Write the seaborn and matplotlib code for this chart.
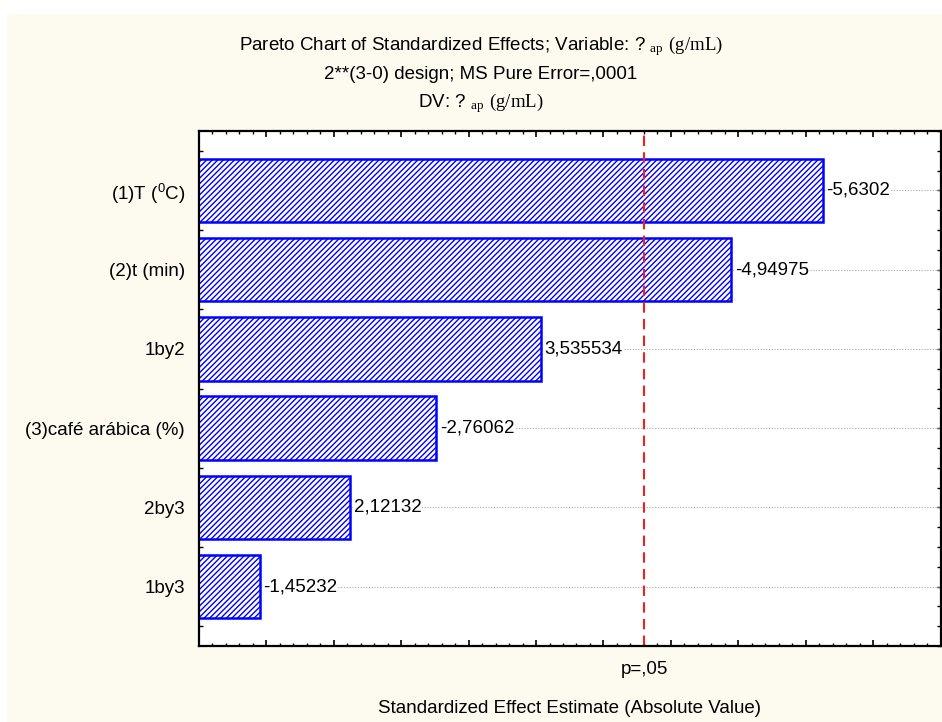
import matplotlib
matplotlib.use("Agg")
import matplotlib.pyplot as plt
import matplotlib.transforms as mtransforms
from matplotlib.patches import Rectangle
from matplotlib.ticker import MultipleLocator, FixedLocator, NullFormatter
import seaborn as sns

# Data
factors = [r"(1)T ($^{\mathsf{0}}$C)", "(2)t (min)", "1by2",
           "(3)café arábica (%)", "2by3", "1by3"]
effects = [-5.6302, -4.94975, 3.535534, -2.76062, 2.12132, -1.45232]
abs_effects = [abs(v) for v in effects]
t_crit = 4.303  # p = .05 line

sns.set_style("ticks")
plt.rcParams['font.family'] = ['Liberation Sans', 'DejaVu Sans']
plt.rcParams['mathtext.fontset'] = 'custom'
plt.rcParams['mathtext.rm'] = 'Liberation Serif'
plt.rcParams['mathtext.sf'] = 'Liberation Sans'
plt.rcParams['hatch.linewidth'] = 1.0
plt.rcParams['text.color'] = 'black'
plt.rcParams['axes.labelcolor'] = 'black'
plt.rcParams['ytick.labelcolor'] = 'black'
FS = 13.5

W, H = 942, 722
fig = plt.figure(figsize=(W / 100, H / 100), dpi=100)
fig.patch.set_facecolor('white')
fig.patches.append(Rectangle((7 / W, 0), 1, 1 - 14 / H, transform=fig.transFigure,
                             facecolor='#FDFAF0', edgecolor='none', zorder=-1))

ax = fig.add_axes([199 / W, 1 - 646 / H, 741.5 / W, 515 / H])
ax.set_facecolor('white')

sns.barplot(x=abs_effects, y=factors, orient='h', ax=ax, color='white',
            edgecolor='#0000FF', linewidth=1.8, hatch='//////', width=0.8,
            saturation=1, zorder=3)

ax.set_xlim(1.0, 6.5)
ax.set_ylim(5.75, -0.75)

# value labels
for i, (a, v) in enumerate(zip(abs_effects, effects)):
    ax.text(a + 0.025, i, str(v).replace('.', ','), va='center', ha='left',
            fontsize=FS, zorder=4,
            bbox=dict(facecolor='white', edgecolor='none', pad=0.5))

# p = .05 line
ax.axvline(t_crit, color='#F02020', lw=1.5, dashes=(5, 3), zorder=5)
trans = mtransforms.blended_transform_factory(ax.transData, ax.transAxes)
ax.text(t_crit, -0.054, 'p=,05', transform=trans, ha='center', va='baseline',
        fontsize=FS)

# grid
ax.grid(axis='y', which='major', linestyle=(0, (1, 1.5)), color='#A8A8A8', lw=0.8)
ax.set_axisbelow(True)

# ticks
ax.xaxis.set_major_locator(MultipleLocator(0.5))
ax.xaxis.set_minor_locator(MultipleLocator(0.1))
ax.xaxis.set_major_formatter(NullFormatter())
ax.tick_params(axis='x', which='both', direction='in', top=True, bottom=True,
               color='black')
ax.tick_params(axis='x', which='major', length=4, width=1.2)
ax.tick_params(axis='x', which='minor', length=2, width=1.0)
ax.yaxis.set_minor_locator(MultipleLocator(0.5))
ax.tick_params(axis='y', which='both', direction='in', left=True, right=False,
               length=3, width=1.0, color='black')
ax.tick_params(axis='y', which='major', labelsize=FS, pad=10, labelcolor='black')
ax.set_xlabel('')
ax.set_ylabel('')

sec = ax.secondary_yaxis('right')
sec.yaxis.set_major_locator(FixedLocator(range(6)))
sec.yaxis.set_minor_locator(MultipleLocator(0.25))
sec.yaxis.set_major_formatter(NullFormatter())
sec.tick_params(axis='y', which='both', direction='in', length=3, width=1.0,
                color='black')
sec.spines['right'].set_visible(False)

for s in ax.spines.values():
    s.set_color('black')
    s.set_linewidth(1.6)
    s.set_zorder(6)

# titles
cx = 481 / W
fig.text(cx, 1 - 50 / H,
         r"Pareto Chart of Standardized Effects; Variable: ? $\mathrm{_{ap}\ (g/mL)}$",
         ha='center', va='baseline', fontsize=FS)
fig.text(cx, 1 - 79 / H, "2**(3-0) design; MS Pure Error=,0001",
         ha='center', va='baseline', fontsize=FS)
fig.text(cx, 1 - 107 / H, r"DV: ? $\mathrm{_{ap}\ (g/mL)}$",
         ha='center', va='baseline', fontsize=FS)
fig.text(570 / W, 1 - 713 / H, "Standardized Effect Estimate (Absolute Value)",
         ha='center', va='baseline', fontsize=FS)

fig.savefig('out.png', dpi=100)
